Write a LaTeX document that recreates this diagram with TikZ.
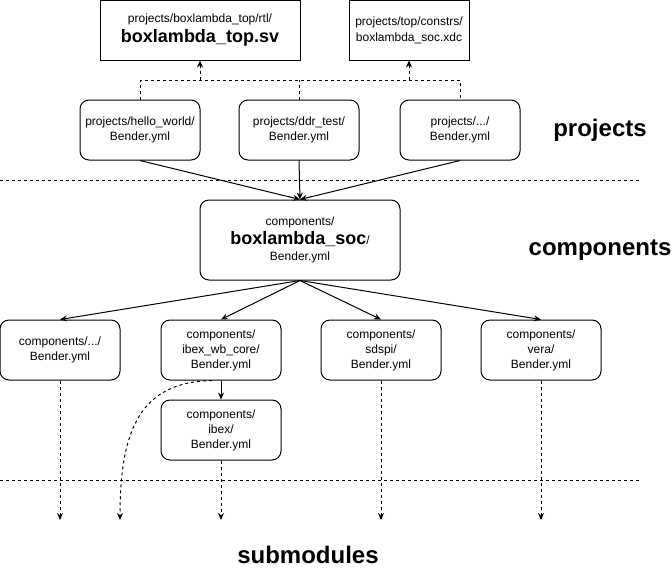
\documentclass[tikz,border=0pt]{standalone}
\usepackage{fontspec}
\setmainfont{Liberation Sans}
\usetikzlibrary{arrows.meta}
\begin{document}
\begin{tikzpicture}[x=1pt,y=-1pt,
  every node/.style={font=\fontsize{12}{15}\selectfont, align=center, inner sep=0pt},
  filebox/.style={draw, line width=1pt, minimum width=200pt, minimum height=60pt},
  ymlbox/.style={draw, line width=1pt, rounded corners=9pt, minimum width=120pt, minimum height=60pt},
  layer/.style={font=\fontsize{24}{28}\selectfont\bfseries},
  bigname/.style={font=\fontsize{18}{22}\selectfont\bfseries},
  dep/.style={line width=1pt, -{Stealth[length=7pt,width=6pt]}},
  dashdep/.style={line width=1pt, dash pattern=on 3pt off 3pt, -{Stealth[length=7pt,width=6pt]}},
  dashlink/.style={line width=1pt, dash pattern=on 3pt off 3pt},
  separator/.style={line width=1pt, dash pattern=on 3pt off 3pt}
]
\useasboundingbox (0,0) rectangle (672,571);

% top-level build files
\node[filebox] (rtl) at (200,30) {projects/boxlambda\_top/rtl/\\[3pt]{\fontsize{18}{22}\selectfont\bfseries boxlambda\_top.sv}};
\node[filebox, minimum width=120pt] (xdc) at (409,30) {projects/top/constrs/\\[1pt]boxlambda\_soc.xdc};

% projects
\node[ymlbox] (hello) at (140,130) {projects/hello\_world/\\Bender.yml};
\node[ymlbox] (ddr) at (299,130) {projects/ddr\_test/\\Bender.yml};
\node[ymlbox] (more) at (460,130) {projects/.../\\Bender.yml};
\node[layer] (projlbl) at (600,130) {projects};

% SoC component
\node[ymlbox, minimum width=200pt, minimum height=80pt] (soc) at (300,240)
  {components/\\[3pt]{\fontsize{18}{22}\selectfont\bfseries boxlambda\_soc}/\\[1pt]Bender.yml};
\node[layer] (complbl) at (600,250) {components};

% leaf components
\node[ymlbox] (misc) at (60,350) {components/.../\\Bender.yml};
\node[ymlbox] (core) at (221,350) {components/\\ibex\_wb\_core/\\Bender.yml};
\node[ymlbox] (sdspi) at (381,350) {components/\\sdspi/\\Bender.yml};
\node[ymlbox] (vera) at (541,350) {components/\\vera/\\Bender.yml};
\node[ymlbox] (ibex) at (221,430) {components/\\ibex/\\Bender.yml};

\node[layer] (sublbl) at (308,555) {submodules};

% layer separators
\coordinate (sepa1) at (0,180);
\coordinate (sepa2) at (640,180);
\coordinate (sepb1) at (0,480);
\coordinate (sepb2) at (640,480);
\draw[separator] (sepa1) -- (sepa2);
\draw[separator] (sepb1) -- (sepb2);

% projects reference the top-level sources
\coordinate (busL) at (140,80);
\coordinate (busR) at (460,80);
\draw[dashlink] (hello.north) -- (busL) -- (busR) -- (more.north);
\draw[dashlink] (ddr.north) -- (ddr.north |- busL);
\draw[dashdep] (rtl.south |- busL) -- (rtl.south);
\draw[dashdep] (xdc.south |- busL) -- (xdc.south);

% projects depend on the SoC
\draw[dep] (hello.south) -- (soc.north);
\draw[dep] (ddr.south) -- (soc.north);
\draw[dep] (more.south) -- (soc.north);

% SoC depends on components
\draw[dep] (soc.south) -- (misc.north);
\draw[dep] (soc.south) -- (core.north);
\draw[dep] (soc.south) -- (sdspi.north);
\draw[dep] (soc.south) -- (vera.north);
\draw[dep] (core.south) -- (ibex.north);

% git submodules
\coordinate (sub1) at (60,520);
\coordinate (sub2) at (120,520);
\coordinate (sub3) at (221,520);
\coordinate (sub4) at (381,520);
\coordinate (sub5) at (541,520);
\draw[dashdep] (misc.south) -- (sub1);
\draw[dashdep] ([xshift=-9pt]core.south) .. controls (140,382) and (120,430) .. (sub2);
\draw[dashdep] (ibex.south) -- (sub3);
\draw[dashdep] (sdspi.south) -- (sub4);
\draw[dashdep] (vera.south) -- (sub5);
\end{tikzpicture}
\end{document}
